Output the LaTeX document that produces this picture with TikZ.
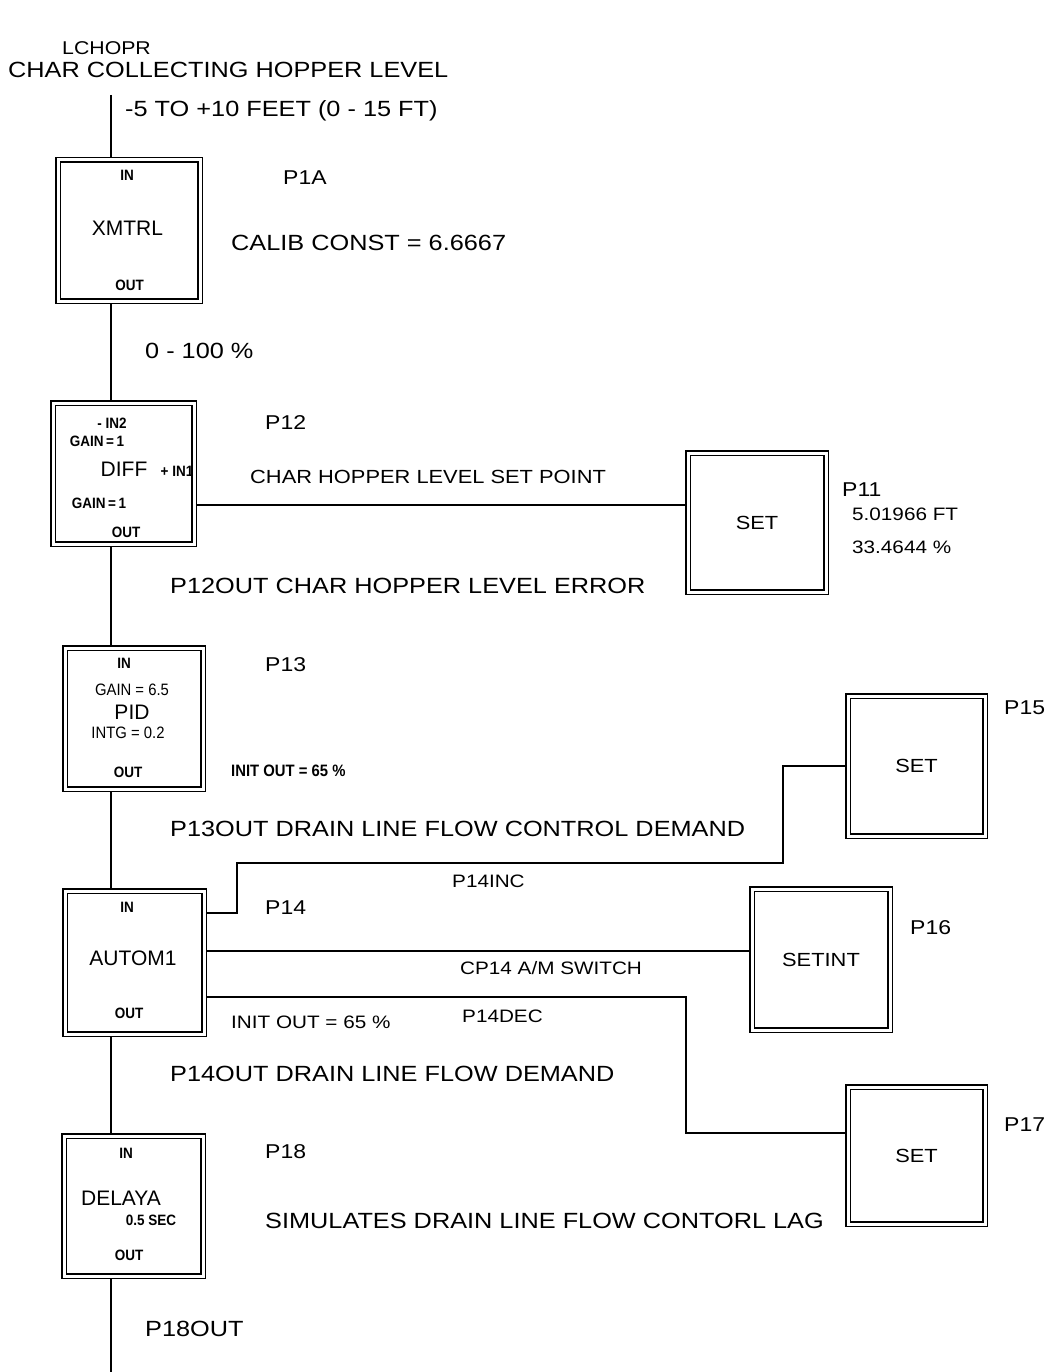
\documentclass[tikz,border=0pt]{standalone}
\usepackage{fontspec}
\setmainfont{Liberation Sans}
\newfontfamily\pf[FakeStretch=1.15]{Liberation Sans}
\newfontfamily\nf[FakeStretch=0.9]{Liberation Sans}
\tikzset{
  blk/.style={draw, double, double distance=3pt, line width=1.5pt, inner sep=0pt,
              outer sep=3pt, font=\pf\fontsize{19}{22}\selectfont},
  wire/.style={line width=1.4pt},
  big/.style={font=\pf\fontsize{22}{26}\selectfont, inner sep=0pt, anchor=west},
  plab/.style={font=\pf\fontsize{20}{24}\selectfont, inner sep=0pt, anchor=west},
  mid/.style={font=\pf\fontsize{18}{22}\selectfont, inner sep=0pt},
  bxname/.style={font=\fontsize{21}{24}\selectfont, inner sep=0pt},
  tinyt/.style={font=\nf\bfseries\fontsize{15}{17}\selectfont, inner sep=0pt},
  prm/.style={font=\nf\fontsize{16.5}{18}\selectfont, inner sep=0pt},
}
\begin{document}
\begin{tikzpicture}[x=1pt,y=-1pt]
\fill[white] (0,0) rectangle (1051,1372);
\useasboundingbox (0,0) rectangle (1051,1372);

% ---- header texts
\node[plab, font=\pf\fontsize{18.5}{22}\selectfont] (lchopr) at (62,48) {LCHOPR};
\node[big] (title) at (8,70) {CHAR COLLECTING HOPPER LEVEL};
\node[big] (range) at (125,111) {-5 TO +10 FEET (0 - 15 FT)};

% ---- left column blocks
\node[blk, minimum width=142pt, minimum height=141pt] (xmtrl) at (129,230.5) {};
\node[tinyt] (xin) at (127,175) {IN};
\node[bxname] (xname) at (127.5,228) {XMTRL};
\node[tinyt] (xout) at (129.5,285) {OUT};

\node[blk, minimum width=141pt, minimum height=141pt] (diff) at (123.5,473.5) {};
\node[tinyt] (din2) at (112,423) {- IN2};
\node[tinyt] (dg1) at (97,441) {GAIN\,=\,1};
\node[bxname] (dname) at (124,469) {DIFF};
\node[tinyt] (din1) at (177,471) {+ IN1};
\node[tinyt] (dg2) at (99,503) {GAIN\,=\,1};
\node[tinyt] (dout) at (126,532) {OUT};

\node[blk, minimum width=138pt, minimum height=141pt] (pid) at (134,718.5) {};
\node[tinyt] (pin) at (124,663) {IN};
\node[prm] (pgain) at (132,690) {GAIN = 6.5};
\node[bxname] (pname) at (132,712) {PID};
\node[prm] (pintg) at (128,733) {INTG = 0.2};
\node[tinyt] (pout) at (128,772) {OUT};

\node[blk, minimum width=139pt, minimum height=143pt] (autom) at (134.5,962.5) {};
\node[tinyt] (ain) at (127,907) {IN};
\node[bxname] (aname) at (133,958) {AUTOM1};
\node[tinyt] (aout) at (129,1013) {OUT};

\node[blk, minimum width=139pt, minimum height=140pt] (delaya) at (133.5,1206) {};
\node[tinyt] (lin) at (126,1153) {IN};
\node[bxname] (lname) at (121,1198) {DELAYA};
\node[tinyt] (lsec) at (151,1220) {0.5 SEC};
\node[tinyt] (lout) at (129,1255) {OUT};

% ---- right blocks
\node[blk, minimum width=138pt, minimum height=139pt] (p11) at (757,522.5) {SET};
\node[blk, minimum width=137pt, minimum height=140pt] (p15) at (916.5,766) {SET};
\node[blk, minimum width=138pt, minimum height=141pt] (p16) at (821,959.5) {SETINT};
\node[blk, minimum width=137pt, minimum height=137pt] (p17) at (916.5,1155.5) {SET};

% ---- labels
\node[plab] (l1a) at (283,178) {P1A};
\node[big] (calib) at (231,243) {CALIB CONST = 6.6667};
\node[big] (pct) at (145,351) {0 - 100 \%};
\node[plab] (l12) at (265,423) {P12};
\node[mid, anchor=west, font=\pf\fontsize{19}{22}\selectfont] (spt) at (250,477) {CHAR HOPPER LEVEL SET POINT};
\node[plab] (l11) at (842,490) {P11};
\node[mid, anchor=west] (ft) at (852,514) {5.01966 FT};
\node[mid, anchor=west] (pc11) at (852,547) {33.4644 \%};
\node[big] (err) at (170,586) {P12OUT CHAR HOPPER LEVEL ERROR};
\node[plab] (l13) at (265,665) {P13};
\node[tinyt, anchor=west, font=\nf\bfseries\fontsize{16.5}{18}\selectfont] (init1) at (231,771) {INIT OUT = 65 \%};
\node[big] (dem) at (170,829) {P13OUT DRAIN LINE FLOW CONTROL DEMAND};
\node[plab] (l15) at (1004,708) {P15};
\node[mid, anchor=west] (inc) at (452,881) {P14INC};
\node[plab] (l14) at (265,908) {P14};
\node[plab] (l16) at (910,928) {P16};
\node[mid, anchor=west] (am) at (460,968) {CP14 A/M SWITCH};
\node[mid, anchor=west] (init2) at (231,1022) {INIT OUT = 65 \%};
\node[mid, anchor=west] (dec) at (462,1016) {P14DEC};
\node[big] (fdem) at (170,1074) {P14OUT DRAIN LINE FLOW DEMAND};
\node[plab] (l17) at (1004,1125) {P17};
\node[plab] (l18) at (265,1152) {P18};
\node[big] (lag) at (265,1221) {SIMULATES DRAIN LINE FLOW CONTORL LAG};
\node[big] (p18out) at (145,1329) {P18OUT};

% ---- helper coordinates
\coordinate (top) at (111,95);
\coordinate (bot) at (111,1372);
\coordinate (ySP) at (0,505);
\coordinate (yInc) at (0,913);
\coordinate (yAM) at (0,951);
\coordinate (yDec) at (0,997);
\coordinate (yP17) at (0,1133);
\coordinate (k1) at (237,863);
\coordinate (k2) at (783,863);
\coordinate (k3) at (686,997);

% ---- connectors
\draw[wire] (top) -- (top |- xmtrl.north);
\draw[wire] (top |- xmtrl.south) -- (top |- diff.north);
\draw[wire] (top |- diff.south) -- (top |- pid.north);
\draw[wire] (top |- pid.south) -- (top |- autom.north);
\draw[wire] (top |- autom.south) -- (top |- delaya.north);
\draw[wire] (top |- delaya.south) -- (bot);
\draw[wire] (diff.east |- ySP) -- (p11.west |- ySP);
\draw[wire] (autom.east |- yInc) -| (k1) -- (k2) |- (p15.west);
\draw[wire] (autom.east |- yAM) -- (p16.west |- yAM);
\draw[wire] (autom.east |- yDec) -- (k3) |- (p17.west |- yP17);
\end{tikzpicture}
\end{document}
